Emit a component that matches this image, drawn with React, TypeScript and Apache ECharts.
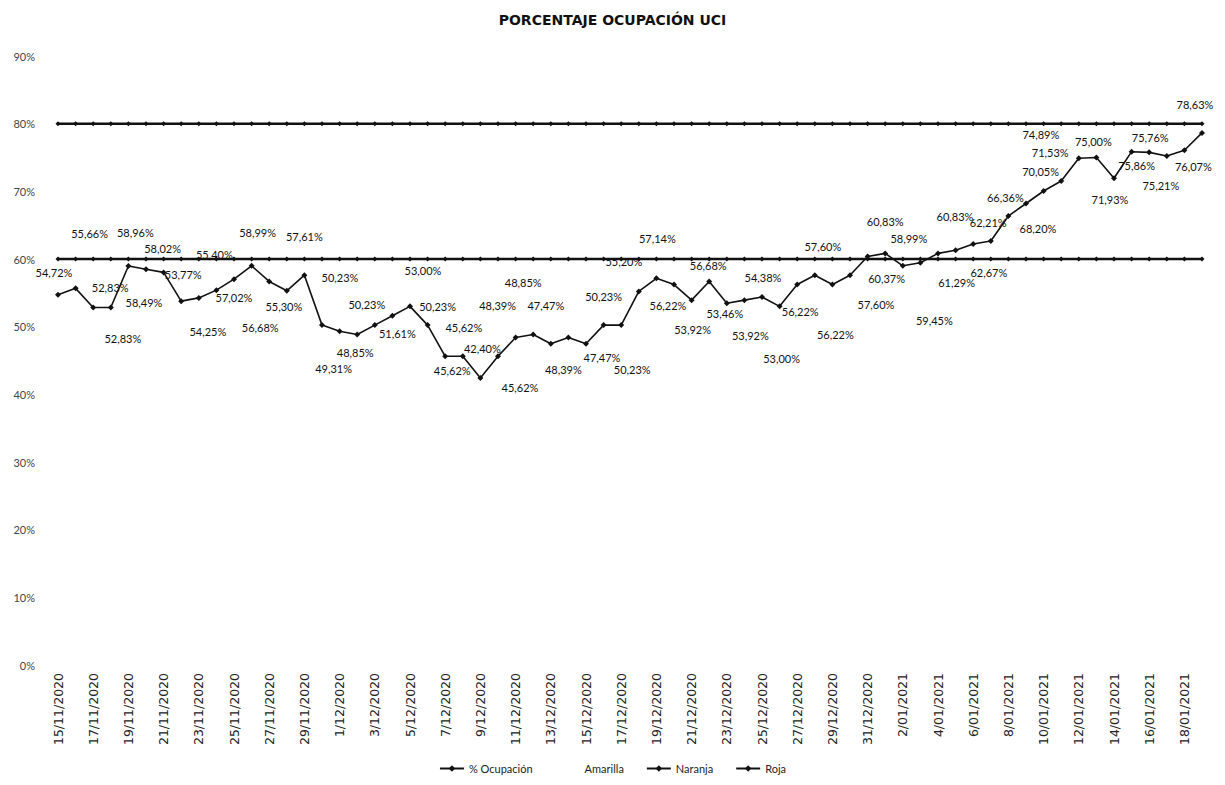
import React, { useEffect, useRef } from "react";
import * as echarts from "echarts";

const dates = [
  "15/11/2020","16/11/2020","17/11/2020","18/11/2020","19/11/2020","20/11/2020","21/11/2020","22/11/2020",
  "23/11/2020","24/11/2020","25/11/2020","26/11/2020","27/11/2020","28/11/2020","29/11/2020","30/11/2020",
  "1/12/2020","2/12/2020","3/12/2020","4/12/2020","5/12/2020","6/12/2020","7/12/2020","8/12/2020",
  "9/12/2020","10/12/2020","11/12/2020","12/12/2020","13/12/2020","14/12/2020","15/12/2020","16/12/2020",
  "17/12/2020","18/12/2020","19/12/2020","20/12/2020","21/12/2020","22/12/2020","23/12/2020","24/12/2020",
  "25/12/2020","26/12/2020","27/12/2020","28/12/2020","29/12/2020","30/12/2020","31/12/2020",
  "1/01/2021","2/01/2021","3/01/2021","4/01/2021","5/01/2021","6/01/2021","7/01/2021","8/01/2021",
  "9/01/2021","10/01/2021","11/01/2021","12/01/2021","13/01/2021","14/01/2021","15/01/2021","16/01/2021",
  "17/01/2021","18/01/2021","19/01/2021",
];

const ocupacion = [
  54.72, 55.66, 52.83, 52.83, 58.96, 58.49, 58.02, 53.77, 54.25, 55.40,
  57.02, 58.99, 56.68, 55.30, 57.61, 50.23, 49.31, 48.85, 50.23, 51.61,
  53.00, 50.23, 45.62, 45.62, 42.40, 45.62, 48.39, 48.85, 47.47, 48.39,
  47.47, 50.23, 50.23, 55.20, 57.14, 56.22, 53.92, 56.68, 53.46, 53.92,
  54.38, 53.00, 56.22, 57.60, 56.22, 57.60, 60.37, 60.83, 58.99, 59.45,
  60.83, 61.29, 62.21, 62.67, 66.36, 68.20, 70.05, 71.53, 74.89, 75.00,
  71.93, 75.86, 75.76, 75.21, 76.07, 78.63,
];

const amarilla: number[] = [];
const naranjaLevel = 60;
const rojaLevel = 80;
const naranja = dates.map(() => naranjaLevel);
const roja = dates.map(() => rojaLevel);

const yTicks = { min: 0, max: 90, interval: 10 };

// label placement per point: [side, dx, dy] (style only)
const labelPlacement: [string, number, number][] = [
  ["top", -4, -9], ["top", 14, -41], ["top", 17, -7], ["bottom", 12, 17], ["top", 7, -20],
  ["bottom", -2, 20], ["top", -1, -10], ["top", 2, -13], ["bottom", 9, 20], ["top", -2, -22],
  ["bottom", 0, 5], ["top", 6, -20], ["bottom", -9, 33], ["bottom", -3, 2], ["top", 0, -25],
  ["top", 18, -34], ["bottom", -6, 24], ["bottom", -2, 5], ["top", -8, -7], ["bottom", 5, 4],
  ["top", 13, -22], ["top", 10, -5], ["bottom", 7, 1], ["top", 1, -15], ["top", 2, -16],
  ["bottom", 22, 18], ["top", -18, -19], ["top", -10, -38], ["top", -5, -25], ["bottom", -5, 18],
  ["bottom", 16, 0], ["top", 0, -15], ["bottom", 11, 31], ["top", -15, -16], ["top", 1, -26],
  ["bottom", -6, 7], ["bottom", 1, 16], ["top", -1, -2], ["bottom", -2, -3], ["bottom", 6, 22],
  ["top", 1, -6], ["bottom", 2, 39], ["bottom", 3, 13], ["top", 8, -15], ["bottom", 3, 36],
  ["bottom", 26, 16], ["bottom", 19, 9], ["top", 0, -18], ["top", 6, -14], ["bottom", 14, 44],
  ["top", 17, -23], ["bottom", 1, 19], ["top", 15, -8], ["bottom", -2, 18], ["top", -3, -5],
  ["bottom", 12, 11], ["top", -3, -6], ["top", -11, -15], ["top", -38, -10], ["top", -3, -3],
  ["bottom", -4, 8], ["bottom", 5, 0], ["top", 1, -1], ["bottom", -6, 16], ["bottom", 9, 3],
  ["top", -7, -15],
];

const FONT = "Lato, 'DejaVu Sans', sans-serif";
const AXIS_FONT = "'DejaVu Sans', sans-serif";

export default function App() {
  const ref = useRef<HTMLDivElement>(null);
  useEffect(() => {
    if (!ref.current) return;
    const chart = echarts.init(ref.current, undefined, { renderer: "svg" });
    const fmt = (v: number) => v.toFixed(2).replace(".", ",") + "%";
    chart.setOption({
      animation: false,
      backgroundColor: "#ffffff",
      textStyle: { fontFamily: FONT },
      title: {
        text: "PORCENTAJE OCUPACIÓN UCI",
        left: "center",
        top: 8,
        textStyle: { fontSize: 14, fontWeight: 600, color: "#111", fontFamily: AXIS_FONT },
      },
      legend: {
        bottom: 6,
        left: "center",
        itemWidth: 24,
        itemHeight: 8,
        itemGap: 22,
        textStyle: { fontSize: 11, color: "#222", fontFamily: FONT },
        data: ["% Ocupación", "Amarilla", "Naranja", "Roja"],
      },
      grid: { left: 58, right: 23, top: 56, bottom: 120, containLabel: false },
      xAxis: {
        type: "category",
        data: dates,
        boundaryGap: false,
        axisLine: { show: false },
        axisTick: { show: false },
        axisLabel: {
          rotate: 90,
          interval: 1,
          fontSize: 12.5,
          color: "#222",
          margin: 8,
          fontFamily: AXIS_FONT,
        },
      },
      yAxis: {
        type: "value",
        min: yTicks.min,
        max: yTicks.max,
        interval: yTicks.interval,
        splitLine: { show: false },
        axisLine: { show: false },
        axisTick: { show: false },
        axisLabel: { formatter: "{value}%", fontSize: 11, color: "#444", margin: 23, fontFamily: FONT },
      },
      series: [
        {
          name: "% Ocupación",
          type: "line",
          data: ocupacion.map((v, i) => ({
            value: v,
            label: { position: labelPlacement[i][0] },
          })),
          symbol: "diamond",
          symbolSize: 6,
          lineStyle: { color: "#111", width: 1.6 },
          itemStyle: { color: "#111" },
          label: {
            show: true,
            formatter: (p: any) => fmt(p.value),
            fontSize: 11,
            color: "#111",
            distance: 5,
            fontFamily: FONT,
          },
          labelLayout: (params: any) => {
            const pl = labelPlacement[params.dataIndex];
            if (!pl) return {};
            return { dx: pl[1], dy: pl[2], hideOverlap: false };
          },
          z: 5,
        },
        {
          name: "Amarilla",
          type: "line",
          data: amarilla,
          symbol: "none",
          lineStyle: { color: "#ffffff", width: 2 },
          itemStyle: { color: "#ffffff" },
        },
        {
          name: "Naranja",
          type: "line",
          data: naranja,
          symbol: "diamond",
          symbolSize: 5,
          lineStyle: { color: "#111", width: 2.5 },
          itemStyle: { color: "#111" },
          z: 3,
        },
        {
          name: "Roja",
          type: "line",
          data: roja,
          symbol: "diamond",
          symbolSize: 5,
          lineStyle: { color: "#111", width: 2.5 },
          itemStyle: { color: "#111" },
          z: 3,
        },
      ],
    });
    return () => chart.dispose();
  }, []);
  return (
    <div
      ref={ref}
      style={{ position: "fixed", left: 0, top: 0, width: 1225, height: 785, background: "#fff" }}
    />
  );
}
